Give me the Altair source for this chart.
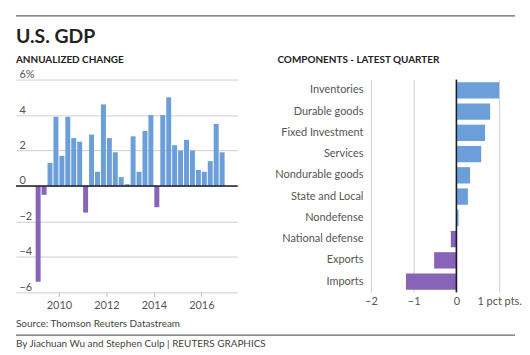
import altair as alt
import pandas as pd

FONT = "Lato"
BLUE = "#6c9fd9"
PURPLE = "#8864b8"
GRID = "#cfcfcf"
ZERO = "#1c1c2c"

# ---- data ----
years = [2009] * 4 + [2010] * 4 + [2011] * 4 + [2012] * 4 + [2013] * 4 + [2014] * 4 + [2015] * 4 + [2016] * 4
quarters = [1, 2, 3, 4] * 8
gdp = [-5.4, -0.5, 1.3, 3.9, 1.7, 3.9, 2.7, 2.5,
       -1.5, 2.9, 0.8, 4.6, 2.7, 1.9, 0.5, 0.1,
       2.8, 0.8, 3.1, 4.0, -1.2, 4.0, 5.0, 2.3,
       2.0, 2.6, 2.0, 0.9, 0.8, 1.4, 3.5, 1.9]

components = ["Inventories", "Durable goods", "Fixed Investment", "Services",
              "Nondurable goods", "State and Local", "Nondefense",
              "National defense", "Exports", "Imports"]
contrib = [1.0, 0.79, 0.67, 0.58, 0.32, 0.27, 0.05, -0.13, -0.52, -1.18]

y_ticks = [-6, -4, -2, 0, 2, 4, 6]
x_years = [2010, 2012, 2014, 2016]
comp_ticks = [-2, -1, 0, 1]

gdp_df = pd.DataFrame({"year": years, "q": quarters, "value": gdp})
gdp_df["t"] = gdp_df["year"] + (gdp_df["q"] - 1) / 4 + 0.125
comp_df = pd.DataFrame({"component": components, "value": contrib})

W1, H1 = 223, 214
W2, H2 = 129, 214


def txt(s, x, y, size, weight="normal", color="#333", align="left"):
    return alt.Chart(pd.DataFrame({"s": [s]})).mark_text(
        font=FONT, fontSize=size, fontWeight=weight, color=color,
        align=align, baseline="alphabetic"
    ).encode(x=alt.value(x), y=alt.value(y), text="s:N")


def hrule(y, x1, x2, color="#666", w=1.2):
    return alt.Chart(pd.DataFrame({"a": [0]})).mark_rule(color=color, strokeWidth=w).encode(
        x=alt.value(x1), x2=alt.value(x2), y=alt.value(y)
    )


color_cond = alt.condition(alt.datum.value < 0, alt.value(PURPLE), alt.value(BLUE))

bars1 = alt.Chart(gdp_df).mark_bar(size=5).encode(
    x=alt.X("t:Q", scale=alt.Scale(domain=[2008.4, 2017.32], nice=False, zero=False),
            axis=alt.Axis(values=x_years, format="d", grid=False, domain=False,
                          ticks=True, tickSize=4, tickColor="#bbbbbb", labelPadding=3,
                          tickCount=10,
                          labelColor="#555", labelFontSize=11, labelFont=FONT, title=None)),
    y=alt.Y("value:Q", scale=alt.Scale(domain=[-6, 6], nice=False),
            axis=alt.Axis(values=y_ticks, tickCount=20, format="d",
                          labelExpr="datum.value == 6 ? '6%' : datum.label",
                          labelAlign="left", labelBaseline="bottom", labelPadding=-3,
                          labelOverlap=False,
                          ticks=False, tickSize=0, domain=False, gridColor=GRID,
                          labelColor="#555", labelFontSize=11, labelFont=FONT, title=None)),
    color=color_cond,
)
zero1 = alt.Chart(pd.DataFrame({"y": [0]})).mark_rule(color=ZERO, strokeWidth=1.6).encode(y="y:Q")

left = alt.layer(
    bars1, zero1,
    hrule(-64, 0, 502),
    txt("U.S. GDP", 0, -37, 19.5, "bold", "#222"),
    txt("ANNUALIZED CHANGE", 0, -17, 10, "bold", "#222"),
    txt("COMPONENTS - LATEST QUARTER", 263, -17, 10, "bold", "#222"),
    txt("Source: Thomson Reuters Datastream", 0, 249, 10, "normal", "#444"),
    hrule(257, 0, 502),
    txt("By Jiachuan Wu and Stephen Culp | REUTERS GRAPHICS", 0, 269, 10, "normal", "#444"),
).properties(width=W1, height=H1)

bars2 = alt.Chart(comp_df).mark_bar().encode(
    y=alt.Y("component:N", sort=components,
            scale=alt.Scale(paddingInner=0.23, paddingOuter=0.12),
            axis=alt.Axis(ticks=False, tickSize=0, domain=False, labelPadding=8,
                          labelColor="#555", labelFontSize=11, labelFont=FONT, title=None)),
    x=alt.X("value:Q", scale=alt.Scale(domain=[-2, 1], nice=False),
            axis=alt.Axis(values=comp_ticks, tickCount=10, format="d",
                          labelExpr="datum.value == 1 ? '1 pct pts.' : datum.label",
                          labelFlush=False, labelOverlap=False, ticks=False, tickSize=0,
                          domain=False, gridColor=GRID,
                          labelPadding=3, labelColor="#555", labelFontSize=11, labelFont=FONT,
                          title=None)),
    color=color_cond,
)
zero2 = alt.Chart(pd.DataFrame({"x": [0]})).mark_rule(color=ZERO, strokeWidth=1.6).encode(x="x:Q")

right = alt.layer(bars2, zero2).properties(width=W2, height=H2)

chart = alt.hconcat(left, right, spacing=134, bounds="flush").properties(
    padding={"left": 7, "top": 6, "right": 0, "bottom": 0}
).configure(background="white").configure_view(strokeWidth=0, stroke="transparent")

chart.save("out.html", embed_options={"renderer": "svg", "actions": False})
